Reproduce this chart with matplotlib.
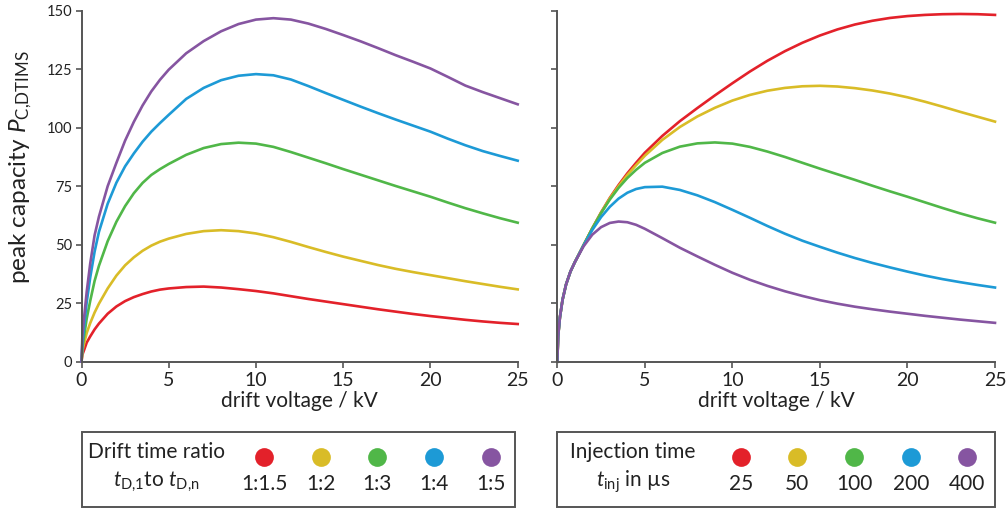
import numpy as np
import matplotlib
matplotlib.use("Agg")
import matplotlib.pyplot as plt

plt.rcParams['font.family'] = ['Lato', 'DejaVu Sans']
plt.rcParams['mathtext.fontset'] = 'custom'
plt.rcParams['mathtext.rm'] = 'Lato'
plt.rcParams['mathtext.it'] = 'Lato:italic'
plt.rcParams['mathtext.default'] = 'it'

colors = ['#E3212A', '#D9BC27', '#50B748', '#1D9AD6', '#8655A1']
ratio_labels = ['1:1.5', '1:2', '1:3', '1:4', '1:5']
inj_labels = ['25', '50', '100', '200', '400']
x_ticks = [0, 5, 10, 15, 20, 25]
y_ticks = [0, 25, 50, 75, 100, 125, 150]

# Drift voltage grid (kV), shared by all series
voltage = [0, 0.05, 0.15, 0.3, 0.5, 0.75, 1, 1.5, 2, 2.5, 3, 3.5, 4, 4.5, 5,
           6, 7, 8, 9, 10, 11, 12, 13, 14, 15, 16, 17, 18, 19, 20, 21, 22, 23, 24, 25]

# Peak capacity for drift time ratios t_D,1 : t_D,n
pc_ratio_1_5 = [0, 3, 5, 8.2, 10.8, 13.8, 16.3, 20.5, 23.6, 25.9, 27.6, 28.9, 30, 30.8, 31.3,
                31.9, 32.1, 31.7, 31, 30.2, 29.2, 28, 26.8, 25.7, 24.6, 23.5, 22.4, 21.4, 20.4,
                19.5, 18.7, 17.9, 17.2, 16.6, 16.1]
pc_ratio_2 = [0, 4.5, 7.9, 12.3, 16.5, 21, 24.8, 31.3, 36.8, 41.2, 44.6, 47.4, 49.6, 51.3, 52.6,
              54.6, 55.8, 56.2, 55.8, 54.8, 53.2, 51.2, 49, 46.9, 44.9, 43.1, 41.3, 39.7, 38.3,
              37, 35.7, 34.4, 33.2, 32, 30.9]
pc_ratio_3 = [0, 6, 11, 18.5, 26, 34.5, 41, 51.5, 59.8, 66.5, 72, 76.4, 79.8, 82.3, 84.5,
              88.4, 91.3, 93, 93.6, 93.2, 91.8, 89.6, 87.2, 84.8, 82.3, 79.9, 77.5, 75.1, 72.8,
              70.5, 68, 65.6, 63.4, 61.3, 59.4]
pc_ratio_4 = [0, 8, 15, 25.5, 36, 47, 55.5, 67.5, 76.5, 83.5, 89, 94, 98.3, 102, 105.5,
              112.3, 117, 120.3, 122.2, 122.9, 122.4, 120.6, 117.8, 114.8, 111.9, 109, 106.2,
              103.5, 100.9, 98.3, 95.3, 92.5, 90, 87.9, 85.9]
pc_ratio_5 = [0, 11, 19, 30, 42, 54, 62, 75, 85, 94.5, 102.5, 109.5, 115.5, 120.5, 124.8,
              131.8, 137, 141.2, 144.3, 146.2, 146.8, 146.2, 144.5, 142.2, 139.6, 136.9, 134,
              131, 128.2, 125.3, 121.7, 118, 115.2, 112.6, 110]

# Peak capacity for injection times t_inj in microseconds
pc_inj_25 = [0, 11, 19, 26.5, 33, 38.5, 42.5, 49.8, 57, 63.8, 70, 75.5, 80.5, 85, 89.3,
             96.5, 102.8, 108.4, 113.8, 119, 124, 128.6, 132.7, 136.3, 139.4, 142, 144.1,
             145.7, 146.9, 147.7, 148.2, 148.5, 148.6, 148.5, 148.2]
pc_inj_50 = [0, 11, 19, 26.5, 33, 38.5, 42.5, 49.8, 57, 63.7, 69.8, 75, 79.8, 84, 88,
             94.8, 100.3, 104.8, 108.5, 111.6, 114, 115.8, 117, 117.7, 117.9, 117.6, 116.9,
             115.9, 114.6, 113, 111.1, 109, 106.8, 104.7, 102.6]
pc_inj_100 = [0, 11, 19, 26.5, 33, 38.5, 42.5, 49.8, 57, 63.5, 69.3, 74.3, 78.5, 82, 85,
              89.2, 91.9, 93.3, 93.7, 93.2, 91.8, 89.8, 87.5, 85, 82.5, 80.1, 77.7, 75.2,
              72.8, 70.5, 68.1, 65.7, 63.4, 61.3, 59.4]
pc_inj_200 = [0, 11, 19, 26.5, 33, 38.5, 42.5, 49.7, 56.3, 61.8, 66.2, 69.7, 72.2, 73.8, 74.6,
              74.8, 73.4, 71.1, 68.2, 64.9, 61.5, 58, 54.7, 51.7, 49.1, 46.6, 44.3, 42.2,
              40.3, 38.5, 36.8, 35.3, 34, 32.8, 31.7]
pc_inj_400 = [0, 11, 19, 26.5, 33, 38.5, 42.5, 49.3, 54.3, 57.5, 59.3, 59.9, 59.6, 58.5, 56.8,
              52.8, 48.7, 45, 41.4, 38, 35, 32.4, 30.1, 28.1, 26.3, 24.8, 23.5, 22.4, 21.4,
              20.5, 19.6, 18.8, 18, 17.3, 16.6]

ratio_series = [pc_ratio_1_5, pc_ratio_2, pc_ratio_3, pc_ratio_4, pc_ratio_5]
inj_series = [pc_inj_25, pc_inj_50, pc_inj_100, pc_inj_200, pc_inj_400]

W, H = 1007, 511
fig = plt.figure(figsize=(W / 100, H / 100), dpi=100)

spine_col = '#555555'
text_col = '#222222'


def frac(x0, y0, x1, y1):
    return [x0 / W, 1 - y1 / H, (x1 - x0) / W, (y1 - y0) / H]


ax_l = fig.add_axes(frac(81.5, 10.7, 517.7, 361.7))
ax_r = fig.add_axes(frac(557.3, 10.7, 995, 361.7))

for ax, series in [(ax_l, ratio_series), (ax_r, inj_series)]:
    for ys, c in zip(series, colors):
        ax.plot(voltage, ys, color=c, lw=1.9, solid_joinstyle='round', clip_on=False)
    ax.set_xlim(0, 25)
    ax.set_ylim(0, 150)
    ax.set_xticks(x_ticks)
    ax.set_yticks(y_ticks)
    for s in ['top', 'right']:
        ax.spines[s].set_visible(False)
    for s in ['left', 'bottom']:
        ax.spines[s].set_color(spine_col)
        ax.spines[s].set_linewidth(1.4)
    ax.tick_params(axis='x', direction='out', length=4.5, width=1.2, color=spine_col,
                   labelsize=14, pad=3, labelcolor=text_col)
    ax.tick_params(axis='y', direction='out', length=4.5, width=1.2, color=spine_col,
                   labelsize=10.5, pad=2, labelcolor=text_col)
    ax.set_xlabel('drift voltage / kV', fontsize=15, color=text_col, labelpad=1)

ax_l.set_ylabel(r'peak capacity $P_{\mathrm{C{,}DTIMS}}$', fontsize=17.5, color=text_col)
ax_l.yaxis.set_label_coords(-0.108, 0.555)
ax_r.tick_params(axis='y', labelleft=False)

# Legend boxes drawn in pixel coordinates
ov = fig.add_axes([0, 0, 1, 1])
ov.set_xlim(0, W)
ov.set_ylim(H, 0)
ov.axis('off')

boxes = [
    (81.5, 515, 'Drift time ratio', r'$t_{\mathrm{D{,}1}}$to $t_{\mathrm{D{,}n}}$',
     156, [264, 320.7, 377.3, 434, 490.7], ratio_labels),
    (557.3, 995, 'Injection time', r'$t_{\mathrm{inj}}$ in µs',
     633, [740.7, 797.3, 854, 910.7, 967.3], inj_labels),
]
for x0, x1, title, sub, tx, cx, labels in boxes:
    ov.add_patch(plt.Rectangle((x0, 432), x1 - x0, 75, fill=False,
                               edgecolor=spine_col, lw=1.4))
    ov.text(tx, 452, title, ha='center', va='center', fontsize=15, color=text_col)
    ov.text(tx, 482, sub, ha='center', va='center', fontsize=15, color=text_col)
    for x, c, lab in zip(cx, colors, labels):
        ov.plot([x], [457.3], 'o', ms=13.5, color=c, mec='none')
        ov.text(x, 484, lab, ha='center', va='center', fontsize=15, color=text_col)

fig.savefig('out.png', dpi=100)
